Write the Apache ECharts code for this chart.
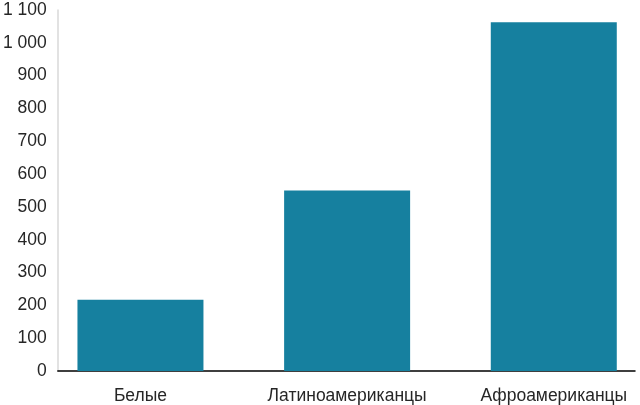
<!DOCTYPE html>
<html>
<head>
<meta charset="utf-8">
<script src="https://cdn.jsdelivr.net/npm/echarts@6/dist/echarts.min.js"></script>
<style>html,body{margin:0;padding:0;background:#fff;}#c{width:640px;height:405px;}</style>
</head>
<body>
<div id="c"></div>
<script>
const categories = ['Белые', 'Латиноамериканцы', 'Афроамериканцы'];
const values = [217, 550, 1063];
const yTicks = [0, 100, 200, 300, 400, 500, 600, 700, 800, 900, 1000, 1100];

const positions = categories.map((c, i) => i);
const chart = echarts.init(document.getElementById('c'));
const fmt = v => String(v).replace(/\B(?=(\d{3})+(?!\d))/g, ' ');
const font = 'Liberation Sans, Arial, sans-serif';
chart.setOption({
  animation: false,
  grid: { left: 56, right: 5, top: 10, bottom: 34, containLabel: false },
  xAxis: {
    type: 'value',
    min: -0.4,
    max: 2.393,
    splitLine: { show: false },
    axisLine: { show: true, onZero: false, lineStyle: { color: '#000', width: 1.5 } },
    axisTick: { show: false },
    axisLabel: {
      customValues: positions,
      formatter: v => categories[Math.round(v)],
      color: '#262626', fontSize: 17.5, fontFamily: font, margin: 16
    }
  },
  yAxis: {
    type: 'value',
    min: yTicks[0],
    max: yTicks[yTicks.length - 1],
    interval: 100,
    splitLine: { show: false },
    axisLine: { show: true, onZero: false, lineStyle: { color: '#d9d9d9', width: 1.5 } },
    axisTick: { show: false },
    axisLabel: { formatter: fmt, color: '#262626', fontSize: 17.5, fontFamily: font, margin: 11 }
  },
  series: [{
    type: 'bar',
    barWidth: 126,
    data: positions.map((p, i) => [p, values[i]]),
    itemStyle: { color: '#16809f' }
  }]
});
</script>
</body>
</html>
